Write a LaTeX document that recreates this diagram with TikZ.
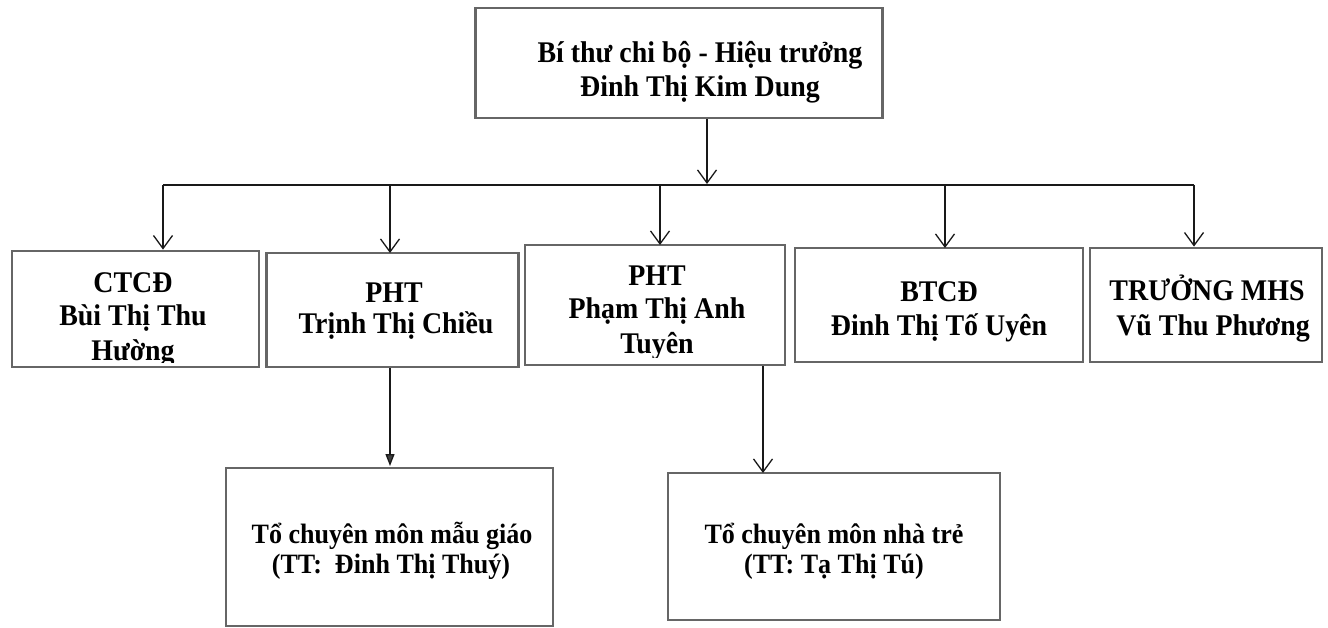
\documentclass[tikz,border=0pt]{standalone}
\usepackage{fontspec}
\setmainfont[FakeStretch=0.93]{Liberation Serif}
\usetikzlibrary{arrows.meta}
\begin{document}
\begin{tikzpicture}[x=1pt,y=-1pt,
  box/.style={draw=black!60, line width=2.8pt, rectangle, inner sep=0pt},
  big/.style={anchor=base, inner sep=0pt, font=\fontsize{30}{34}\selectfont\bfseries},
  small/.style={anchor=base, inner sep=0pt, font=\fontsize{28}{31}\selectfont\bfseries},
  conn/.style={line width=1.3pt, draw=black!90},
  barb/.style={conn, -{Straight Barb[length=13pt,width=19pt,line width=1.3pt]}},
  tri/.style={conn, -{Triangle[length=12pt,width=9pt,fill=black!75]}},
]
\useasboundingbox (0,0) rectangle (1328,628);
\fill[white] (0,0) rectangle (1328,628);

% top box
\node[box, minimum width=407pt, minimum height=110pt] (top) at (679,63) {};
\node[big] (topA) at (700,63) {Bí thư chi bộ - Hiệu trưởng};
\node[big] (topB) at (700,97) {Đinh Thị Kim Dung};

% second row
\begin{scope}
  \clip (12,251) rectangle (259,362);
  \node[big] (ctA) at (133,293) {CTCĐ};
  \node[big] (ctB) at (133,326) {Bùi Thị Thu};
  \node[big] (ctC) at (133,360) {Hường};
\end{scope}
\node[box, minimum width=247pt, minimum height=116pt] (ctcd) at (135.5,309) {};

\node[box, minimum width=252pt, minimum height=114pt] (pht1) at (392.5,310) {};
\node[big] (p1A) at (394,303) {PHT};
\node[big] (p1B) at (396,334) {Trịnh Thị Chiều};

\begin{scope}
  \clip (525,245) rectangle (785,357);
  \node[big] (p2A) at (657,286) {PHT};
  \node[big] (p2B) at (657,319) {Phạm Thị Anh};
  \node[big] (p2C) at (657,353) {Tuyên};
\end{scope}
\node[box, minimum width=260pt, minimum height=120pt] (pht2) at (655,305) {};

\node[box, minimum width=288pt, minimum height=114pt] (btcd) at (939,305) {};
\node[big] (bA) at (939,302) {BTCĐ};
\node[big] (bB) at (939,336) {Đinh Thị Tố Uyên};

\node[box, minimum width=232pt, minimum height=114pt] (mhs) at (1206,305) {};
\node[big] (mA) at (1207,301) {TRƯỞNG MHS};
\node[big] (mB) at (1213,335) {Vũ Thu Phương};

% third row
\node[box, minimum width=327pt, minimum height=158pt] (to1) at (389.5,547) {};
\node[small] (t1A) at (392,543) {Tổ chuyên môn mẫu giáo};
\node[small] (t1B) at (391,573) {(TT:\ \ Đinh Thị Thuý)};

\node[box, minimum width=332pt, minimum height=147pt] (to2) at (834,546.5) {};
\node[small] (t2A) at (834,543) {Tổ chuyên môn nhà trẻ};
\node[small] (t2B) at (834,573) {(TT: Tạ Thị Tú)};

% connectors
\coordinate (hub) at (707,184);
\coordinate (busL) at (163,185);
\coordinate (busR) at (1194,185);
\draw[barb] (top.south -| hub) -- (hub);
\draw[conn] (busL) -- (busR);
\draw[barb] (busL) -- (busL |- ctcd.north);
\draw[barb] (390,185) -- (390,253);
\draw[barb] (660,185) -- (660,245);
\draw[barb] (945,185) -- (945,248);
\draw[barb] (busR) -- (busR |- mhs.north);
\draw[tri] (pht1.south -| 390,0) -- (390,466);
\draw[barb] (pht2.south -| 763,0) -- (763,473);
\end{tikzpicture}
\end{document}
